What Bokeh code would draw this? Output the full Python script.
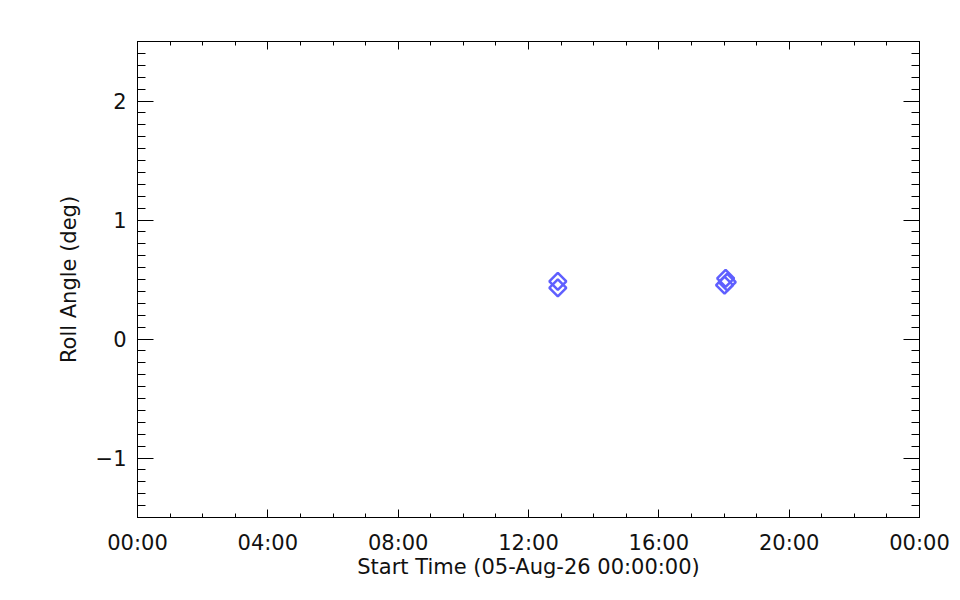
import pandas as pd
from bokeh.plotting import figure
from bokeh.models import FixedTicker, DatetimeAxis, LinearAxis, DatetimeTickFormatter, Range1d
from bokeh.embed import file_html
from bokeh.resources import INLINE

# data
start_times = ["2026-08-05 12:54:00", "2026-08-05 12:54:00",
               "2026-08-05 18:03:00", "2026-08-05 18:06:00", "2026-08-05 18:01:00"]
roll_angles = [0.485, 0.43, 0.51, 0.477, 0.452]

x_tick_labels = ["00:00", "04:00", "08:00", "12:00", "16:00", "20:00", "00:00"]
y_ticks = [-1, 0, 1, 2]
y_tick_labels = ["−1", "0", "1", "2"]

day0 = pd.Timestamp("2026-08-05 00:00:00")
x_major = [(day0 + pd.Timedelta(hours=4 * i)).value / 1e6 for i in range(7)]
x_minor = [(day0 + pd.Timedelta(hours=i)).value / 1e6 for i in range(25)]
y_minor = [round(-1.5 + 0.1 * i, 2) for i in range(41)]

xs = pd.to_datetime(start_times)

FONT = "DejaVu Sans"

p = figure(width=952, height=592, output_backend="svg", toolbar_location=None,
           x_axis_type="datetime",
           x_range=Range1d(x_major[0], x_major[-1]), y_range=Range1d(-1.5, 2.5),
           min_border_left=137, min_border_right=33, min_border_top=41, min_border_bottom=75)
p.xgrid.visible = False
p.ygrid.visible = False
p.outline_line_color = "black"
p.outline_line_width = 1
p.background_fill_color = "white"
p.border_fill_color = "white"

def style_axis(ax, major_len, minor_len):
    ax.major_tick_in = major_len
    ax.major_tick_out = 0
    ax.minor_tick_in = minor_len
    ax.minor_tick_out = 0
    ax.axis_line_color = "black"
    ax.major_tick_line_color = "black"
    ax.minor_tick_line_color = "black"
    ax.major_label_text_font = FONT
    ax.major_label_text_font_size = "21px"
    ax.major_label_text_color = "#111111"
    ax.axis_label_text_font = FONT
    ax.axis_label_text_font_size = "21px"
    ax.axis_label_text_font_style = "normal"
    ax.axis_label_text_color = "#111111"

xt = FixedTicker(ticks=x_major, minor_ticks=x_minor)
yt = FixedTicker(ticks=y_ticks, minor_ticks=y_minor)

xa = p.xaxis[0]
xa.ticker = xt
xa.formatter = DatetimeTickFormatter(hours="%H:%M", days="%H:%M", minutes="%H:%M")
xa.axis_label = "Start Time (05-Aug-26 00:00:00)"
style_axis(xa, 8, 4)
xa.major_label_standoff = 13
xa.axis_label_standoff = -3

ya = p.yaxis[0]
ya.ticker = yt
ya.major_label_overrides = {t: l for t, l in zip(y_ticks, y_tick_labels)}
ya.axis_label = "Roll Angle (deg)"
style_axis(ya, 16, 8)
ya.major_label_standoff = 11
ya.axis_label_standoff = 12

top = DatetimeAxis(ticker=xt)
style_axis(top, 8, 4)
top.major_label_overrides = {t: "" for t in x_major}
top.major_label_standoff = 0
p.add_layout(top, "above")

right = LinearAxis(ticker=yt)
style_axis(right, 16, 8)
right.major_label_overrides = {t: "" for t in y_ticks}
right.major_label_standoff = 0
p.add_layout(right, "right")

p.scatter(xs, roll_angles, marker="square", size=12, angle=0.785398,
          fill_color=None, line_color="#5F5FFF", line_width=2.5)

open("out.html", "w").write(file_html(p, INLINE))
